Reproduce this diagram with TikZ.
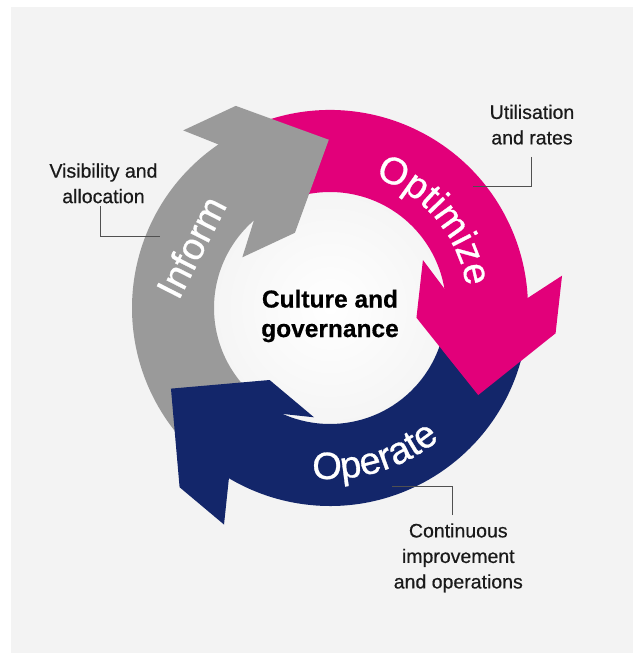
\documentclass[tikz,border=0pt]{standalone}
\usepackage{fontspec}
\setmainfont{Liberation Sans}[FakeBold=0.5]
\newfontfamily\bandfamily{Liberation Sans}[FakeBold=0.8]
\usetikzlibrary{calc,decorations.text}

\definecolor{informgray}{HTML}{9A9A9A}
\definecolor{optpink}{HTML}{E2007A}
\definecolor{opnavy}{HTML}{13266A}
\definecolor{panel}{HTML}{F3F3F3}
\definecolor{leadergray}{HTML}{505050}
\definecolor{notetext}{HTML}{1A1A1A}
\newcommand\bandfont{\bandfamily\fontsize{38}{38}\selectfont}

\tikzset{
  note/.style={font=\fontsize{19.5}{25.5}\selectfont, text=notetext, align=center, inner sep=0pt},
  leader/.style={draw=leadergray, line width=0.9pt},
  band word/.style={font=\bandfont, text=white, inner sep=0pt},
}

\begin{document}
\begin{tikzpicture}[x=1pt,y=1pt]
\pgfmathsetmacro{\rin}{116}
\pgfmathsetmacro{\rout}{198}
\pgfmathsetmacro{\hw}{70}
\pgfmathsetmacro{\hl}{70}
\pgfmathsetmacro{\bl}{58}

\useasboundingbox (0,0) rectangle (635,653);
\fill[panel] (11,0) rectangle (633,646);

\begin{scope}[shift={(330,345)}]
\shade[inner color=white, outer color=black!4] (0,0) circle[radius=\rin+4];

% bands: tail / head / colour
\foreach \a/\b/\col in {228/115/informgray, 113/-6.4/optpink, -8.5/-130/opnavy}
  \fill[\col] (\a:\rin) -- (\a:\rout) arc[start angle=\a, end angle=\b, radius=\rout]
    -- (\b:\rin) arc[start angle=\b, end angle=\a, radius=\rin] -- cycle;

% heads go on top, so each one hides the next tail
\foreach \b/\rh/\col in {115/153/informgray, -6.4/157/optpink, -130/164/opnavy}
  \fill[\col] (\b+9.3:\rout) -- ($(\b:\rh+\hw)+(\b+90:\bl)$) -- (\b:\rh+\hw)
    -- ($(\b:\rh)+(\b-90:\hl)$) -- (\b:\rh-\hw) -- ($(\b:\rh-\hw)+(\b+90:\bl)$)
    -- (\b+16:\rin) -- cycle;

\path[decorate, decoration={text along path, text align=center, text color=white,
  text={|\bandfont|Optimize}}] (95:138) arc[start angle=95, end angle=-15, radius=138];
\path[decorate, decoration={text along path, text align=center, text color=white,
  text={|\bandfont|Operate}}] (-133:171) arc[start angle=-133, end angle=-13, radius=171];
\node[band word, rotate=63] (inform) at (-139,61) {Inform};

\node[font=\bfseries\fontsize{24.5}{29.5}\selectfont, align=center, inner sep=0pt] (core) at (0,-8)
  {Culture and\\governance};
\end{scope}

\node[note] (vis) at (103.5,469.6) {Visibility and\\allocation};
\node[note] (util) at (532,528.3) {Utilisation\\and rates};
\node[note] (cont) at (458.3,95.1) {Continuous\\improvement\\and operations};

\coordinate (visEnd) at (160,417);
\coordinate (utilEnd) at (473,467);
\coordinate (contEnd) at (392,167);

\draw[leader] (vis.south) ++(-3.5,-2.7) |- (visEnd);
\draw[leader] (util.south) ++(-1,-12) |- (utilEnd);
\draw[leader] (cont.north) ++(-6.3,8) |- (contEnd);
\end{tikzpicture}
\end{document}
